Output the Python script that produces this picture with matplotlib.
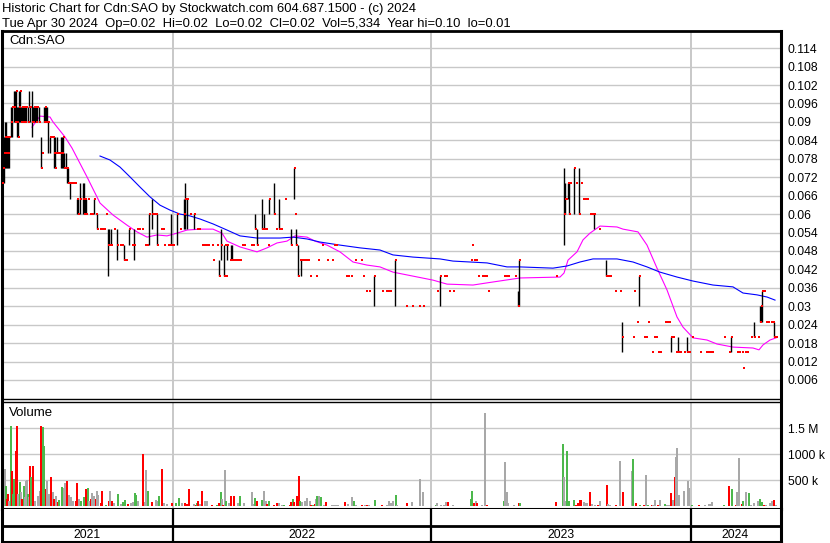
import matplotlib
matplotlib.use("Agg")
import matplotlib.pyplot as plt
import numpy as np

plt.rcParams['font.family'] = ['Liberation Sans', 'DejaVu Sans']

# --- datos (dia = sesion desde el inicio) ---
bar_day = [2, 3, 4, 5, 6, 7, 8, 9, 11, 12, 14, 15, 16, 17, 18, 19, 20, 21, 22, 23, 24, 25, 26, 28, 29, 30,
           32, 33, 34, 35, 36, 37, 39, 41, 42, 44, 45, 46, 47, 48, 50, 51, 53, 54, 55, 56, 57, 59, 61, 62,
           63, 64, 66, 67, 68, 70, 72, 73, 75, 77, 78, 80, 83, 84, 85, 86, 88, 90, 92, 94, 96, 97, 100,
           102, 104, 106, 108, 109, 111, 114, 117, 120, 122, 124, 126, 129, 132, 134, 137, 139, 142, 145,
           147, 149, 152, 154, 156, 157, 161, 163, 164, 168, 170, 171, 173, 177, 180, 184, 185, 187, 190,
           194, 197, 199, 202, 204, 206, 208, 212, 213, 217, 219, 221, 224, 225, 226, 227, 230, 231, 232,
           234, 236, 238, 240, 242, 244, 251, 253, 255, 257, 262, 264, 266, 268, 269, 274, 276, 279, 281,
           285, 291, 294, 295, 296, 298, 300, 301, 302, 304, 306, 308, 310, 316, 318, 322, 327, 332, 334,
           336, 346, 348, 351, 355, 361, 363, 366, 369, 374, 382, 386, 388, 390, 395, 406, 412, 419, 423,
           437, 440, 444, 446, 449, 453, 471, 472, 474, 476, 478, 482, 484, 486, 488, 504, 506, 508, 515,
           518, 519, 556, 564, 565, 566, 568, 569, 570, 574, 576, 579, 581, 583, 585, 587, 590, 592, 594,
           599, 606, 608, 610, 615, 620, 622, 633, 634, 637, 639, 644, 646, 648, 652, 654, 656, 658, 660,
           665, 667, 669, 671, 673, 676, 678, 680, 684, 687, 689, 692, 700, 706, 708, 710, 712, 724, 729,
           731, 737, 739, 742, 743, 745, 747, 751, 754, 758, 760, 761, 762, 764, 766, 768, 771, 773, 774, 776]
bar_hi = [.075, .085, .085, .09, .09, .085, .085, .085, .095, .095, .10, .10, .10, .095, .095, .10, .10, .095, .095, .095, .095, .095, .095, .095, .10, .095,
          .10, .095, .095, .095, .095, .095, .095, .085, .08, .095, .095, .095, .095, .09, .085, .085, .085, .085, .085, .08, .085, .08, .085, .085,
          .085, .08, .08, .075, .075, .07, .07, .07, .07, .065, .065, .07, .07, .07, .065, .065, .065, .06, .06, .065, .06, .06, .055,
          .055, .055, .06, .055, .055, .055, .055, .055, .05, .05, .05, .045, .055, .05, .055, .055, .055, .055, .05,
          .05, .06, .065, .06, .06, .06, .055, .055, .05, .05, .05, .06, .05, .06, .055, .065, .07, .065, .06,
          .06, .055, .055, .05, .05, .05, .05, .05, .045, .05, .045, .055, .05, .05, .04, .05, .05, .05, .05,
          .045, .045, .045, .045, .05, .05, .05, .05, .06, .055, .065, .06, .055, .05, .065, .07, .055, .065, .055,
          .065, .055, .075, .06, .055, .05, .045, .045, .045, .045, .045, .045, .04, .04, .045, .05, .045, .045, .05,
          .05, .04, .04, .04, .045, .045, .04, .035, .035, .04, .035, .035, .035, .035, .045, .03, .03, .03, .03,
          .035, .04, .04, .04, .035, .035, .045, .05, .045, .045, .04, .04, .04, .04, .035, .04, .04, .04, .04,
          .035, .045, .04, .075, .07, .065, .07, .07, .07, .075, .07, .075, .07, .065, .065, .065, .06, .06, .06,
          .055, .045, .04, .04, .035, .035, .025, .02, .035, .025, .04, .02, .02, .025, .015, .02, .02, .015, .015,
          .025, .025, .025, .02, .02, .015, .02, .015, .015, .02, .015, .02, .015, .015, .015, .015, .015, .02, .015,
          .02, .015, .015, .015, .01, .015, .015, .02, .025, .02, .03, .03, .035, .035, .025, .025, .025, .025, .025, .02]
bar_lo = [.065, .07, .07, .075, .075, .075, .075, .075, .085, .085, .09, .09, .09, .085, .085, .09, .09, .09, .09, .09, .09, .09, .09, .09, .095, .09,
          .085, .09, .09, .09, .09, .09, .09, .075, .08, .09, .09, .09, .09, .08, .08, .085, .085, .075, .075, .08, .08, .08, .075, .075,
          .075, .075, .075, .07, .07, .065, .07, .07, .07, .06, .06, .06, .06, .06, .06, .06, .065, .06, .06, .06, .06, .055, .055,
          .055, .055, .06, .04, .05, .05, .055, .045, .05, .05, .045, .045, .05, .05, .045, .055, .055, .055, .05,
          .05, .05, .055, .06, .06, .05, .055, .055, .05, .05, .05, .05, .05, .05, .055, .055, .055, .055, .06,
          .055, .055, .055, .05, .05, .05, .05, .05, .045, .05, .04, .045, .04, .05, .04, .045, .05, .045, .045,
          .045, .045, .045, .045, .05, .05, .05, .05, .055, .05, .055, .055, .055, .05, .06, .06, .055, .055, .055,
          .065, .05, .065, .06, .05, .04, .045, .04, .045, .045, .045, .045, .04, .04, .045, .05, .045, .045, .05,
          .05, .04, .04, .04, .045, .045, .04, .035, .035, .03, .035, .035, .035, .035, .03, .03, .03, .03, .03,
          .035, .03, .04, .04, .035, .035, .045, .05, .045, .045, .04, .04, .04, .04, .035, .04, .04, .04, .04,
          .03, .03, .04, .05, .06, .065, .065, .06, .07, .06, .07, .06, .07, .065, .065, .065, .06, .06, .055,
          .055, .04, .04, .04, .035, .035, .015, .02, .035, .025, .03, .02, .02, .025, .015, .02, .02, .015, .015,
          .025, .025, .025, .015, .02, .015, .015, .015, .015, .015, .015, .02, .015, .015, .015, .015, .015, .02, .015,
          .015, .015, .015, .015, .01, .015, .015, .02, .02, .02, .025, .025, .025, .035, .025, .025, .025, .025, .02, .02]
bar_cl = [.07, .075, .08, .085, .08, .085, .08, .085, .09, .095, .095, .09, .10, .09, .085, .095, .10, .09, .095, .09, .095, .09, .095, .09, .095, .095,
          .09, .09, .095, .095, .09, .095, .09, .075, .08, .09, .095, .09, .09, .09, .085, .085, .085, .08, .075, .08, .08, .08, .08, .08,
          .085, .075, .075, .075, .07, .07, .07, .07, .07, .065, .06, .065, .065, .06, .065, .06, .065, .06, .06, .065, .06, .055, .055,
          .055, .055, .06, .05, .05, .05, .055, .05, .05, .05, .045, .045, .055, .05, .05, .055, .055, .055, .05,
          .05, .06, .06, .06, .06, .05, .055, .055, .05, .05, .05, .05, .05, .06, .055, .06, .065, .065, .06,
          .06, .055, .055, .05, .05, .05, .05, .05, .045, .05, .04, .05, .04, .05, .04, .05, .045, .045, .045,
          .045, .045, .045, .045, .05, .05, .05, .05, .055, .05, .055, .055, .055, .05, .065, .06, .055, .055, .055,
          .065, .05, .075, .06, .05, .04, .045, .045, .045, .045, .045, .045, .04, .04, .045, .05, .045, .045, .05,
          .05, .04, .04, .04, .045, .045, .04, .035, .035, .04, .035, .035, .035, .035, .045, .03, .03, .03, .03,
          .035, .04, .04, .04, .035, .035, .045, .05, .045, .045, .04, .04, .04, .04, .035, .04, .04, .04, .04,
          .03, .045, .04, .06, .065, .065, .07, .06, .07, .075, .07, .06, .07, .065, .065, .065, .06, .06, .06,
          .055, .04, .04, .04, .035, .035, .02, .02, .035, .025, .04, .02, .02, .025, .015, .02, .02, .015, .015,
          .025, .025, .025, .02, .02, .015, .015, .015, .015, .015, .015, .02, .015, .015, .015, .015, .015, .02, .015,
          .02, .015, .015, .015, .01, .015, .015, .02, .02, .02, .025, .03, .035, .035, .025, .025, .025, .025, .02, .02]

# medias moviles
ma_short_day = [32, 40, 50, 53, 65, 72, 87, 100, 113, 127, 137, 147, 157, 167, 177, 187, 200, 213, 222, 227,
                240, 257, 267, 277, 287, 295, 307, 315, 327, 340, 353, 367, 380, 393, 413, 433, 447, 473, 487,
                520, 560, 564, 568, 577, 583, 590, 600, 617, 623, 638, 647, 657, 667, 677, 683, 693, 707, 717,
                733, 753, 759, 763, 770, 776]
ma_short = [.0883, .0919, .0916, .0900, .0851, .0815, .0721, .0636, .0597, .0564, .0542, .0525, .0532, .0529,
            .0538, .0548, .0551, .0551, .0538, .0512, .0493, .0477, .0490, .0506, .0512, .0529, .0525, .0512,
            .0499, .0477, .0444, .0434, .0428, .0411, .0398, .0385, .0372, .0369, .0376, .0392, .0395, .0408,
            .0450, .0477, .0516, .0538, .0561, .0558, .0551, .0542, .0499, .0424, .0353, .0265, .0232, .0197,
            .0190, .0177, .0167, .0164, .0158, .0174, .0190, .0197]
ma_long_day = [100, 110, 120, 130, 140, 150, 160, 170, 180, 190, 200, 213, 227, 240, 257, 280, 293, 307, 320,
               340, 360, 380, 393, 413, 440, 453, 487, 507, 520, 553, 567, 580, 593, 617, 633, 647, 660, 677,
               693, 713, 733, 743, 757, 767, 775]
ma_long = [.0789, .0776, .0753, .0721, .0688, .0656, .0629, .0613, .0600, .0594, .0584, .0568, .0548, .0529,
           .0522, .0522, .0525, .0519, .0509, .0499, .0490, .0483, .0467, .0460, .0454, .0447, .0441, .0428,
           .0428, .0424, .0431, .0444, .0454, .0454, .0444, .0428, .0411, .0395, .0382, .0369, .0363, .0343,
           .0337, .0330, .0320]

# volumen (miles de acciones); u = sube, d = baja, n = sin cambio
vol_day = [2, 4, 5, 6, 7, 8, 10, 11, 12, 13,
           15, 16, 17, 19, 20, 21, 23, 24, 25, 26,
           27, 28, 29, 30, 32, 34, 37, 39, 40, 42,
           43, 45, 46, 48, 50, 52, 53, 55, 57, 58,
           61, 63, 64, 66, 68, 70, 72, 75, 76, 78,
           80, 83, 85, 87, 88, 90, 91, 93, 95, 96,
           97, 100, 101, 105, 108, 109, 111, 113, 117, 120,
           122, 124, 127, 130, 132, 134, 135, 137, 142, 144,
           145, 147, 151, 155, 157, 158, 161, 163, 166, 171,
           175, 178, 181, 184, 186, 188, 193, 195, 196, 197,
           199, 201, 204, 206, 211, 216, 218, 220, 221, 222,
           224, 225, 228, 230, 233, 237, 239, 243, 251, 252,
           254, 256, 261, 263, 265, 266, 268, 273, 276, 278,
           281, 283, 289, 290, 292, 293, 296, 298, 299, 301,
           304, 306, 309, 310, 312, 314, 315, 316, 318, 320,
           323, 325, 331, 333, 335, 337, 344, 347, 351, 353,
           355, 361, 364, 366, 368, 374, 381, 386, 388, 390,
           392, 395, 396, 406, 411, 419, 422, 435, 436, 440,
           443, 445, 447, 452, 470, 471, 473, 475, 476, 481,
           484, 486, 503, 504, 506, 507, 513, 518, 519, 555,
           562, 563, 564, 566, 568, 573, 575, 577, 579, 580,
           583, 585, 586, 589, 591, 594, 597, 599, 606, 607,
           609, 615, 619, 622, 631, 632, 635, 639, 643, 645,
           647, 651, 652, 654, 657, 659, 664, 666, 668, 670,
           672, 674, 675, 676, 678, 683, 687, 688, 691, 698,
           704, 708, 709, 711, 723, 728, 731, 735, 736, 738,
           741, 742, 745, 748, 750, 753, 757, 759, 761, 763,
           765, 769, 771, 773, 775]
vol_k = [634, 717, 397, 141, 237, 109, 1538, 673, 237, 526,
         1070, 1538, 237, 462, 269, 141, 397, 173, 494, 506,
         237, 173, 782, 558, 782, 109, 205, 301, 1551, 1532,
         1167, 333, 494, 237, 558, 269, 141, 205, 77, 122,
         365, 353, 442, 494, 224, 173, 109, 96, 442, 141,
         109, 173, 333, 353, 109, 141, 250, 205, 141, 301,
         224, 58, 301, 32, 96, 301, 109, 58, 237, 45,
         77, 122, 45, 58, 77, 250, 224, 96, 1006, 77,
         699, 301, 77, 122, 109, 205, 718, 58, 45, 58,
         58, 154, 58, 58, 45, 327, 45, 32, 58, 96,
         45, 301, 109, 96, 20, 20, 58, 269, 141, 32,
         699, 109, 58, 198, 198, 58, 205, 58, 269, 45,
         154, 96, 122, 288, 96, 45, 109, 32, 58, 58,
         32, 26, 32, 77, 141, 77, 205, 590, 109, 90,
         96, 154, 96, 26, 26, 45, 141, 192, 205, 173,
         26, 77, 20, 20, 20, 20, 77, 45, 173, 109,
         32, 26, 26, 26, 26, 115, 26, 26, 96, 58,
         109, 224, 26, 58, 77, 519, 269, 26, 58, 32,
         32, 77, 77, 32, 141, 288, 58, 109, 58, 32,
         1788, 20, 109, 846, 269, 58, 26, 58, 70, 77,
         1199, 558, 96, 1058, 109, 115, 26, 70, 115, 115,
         77, 58, 58, 269, 45, 26, 26, 96, 404, 45,
         26, 26, 865, 269, 673, 904, 58, 26, 26, 596,
         26, 26, 26, 115, 26, 115, 45, 26, 26, 250,
         122, 558, 942, 1115, 218, 288, 481, 346, 26, 20,
         26, 45, 45, 77, 26, 384, 327, 26, 269, 923,
         45, 96, 269, 250, 26, 58, 109, 134, 77, 26,
         26, 58, 109, 115, 26]
vol_dir = ("d n u d d n u d u u "
           "d d n u n d u n n n "
           "u n d u d n n n d u "
           "u d n n d n d n d u "
           "u n n d n n n d d n "
           "u u d u n d n n d n "
           "n d d u d n d n u n "
           "u u d n n u u n d n "
           "n u d n n u d n n d "
           "u u n d d d n d u d "
           "n d n n d u d u n d "
           "n u n d d n u n n n "
           "u d u n n d u d d n "
           "n u d d u d d d u n "
           "n n n d u d n u n u "
           "n d n n n n d n n u "
           "n d n d n u d n n n "
           "n u n d n n n u n n "
           "n n d n u u d n d n "
           "n d u n n n n d u d "
           "u n n u u u d d d d "
           "n n n d n n d n d n "
           "n d n d n u d u d n "
           "u d n n d n u n n d "
           "n d n n n n n n u d "
           "n n n n u d u d n n "
           "d u n u n n n u u d "
           "n n n d n").split()

price_ticks = [0.006, 0.012, 0.018, 0.024, 0.03, 0.036, 0.042, 0.048, 0.054, 0.06, 0.066, 0.072,
               0.078, 0.084, 0.09, 0.096, 0.102, 0.108, 0.114]
price_labels = ['0.006', '0.012', '0.018', '0.024', '0.03', '0.036', '0.042', '0.048', '0.054', '0.06',
                '0.066', '0.072', '0.078', '0.084', '0.09', '0.096', '0.102', '0.108', '0.114']
vol_ticks = [500e3, 1000e3, 1500e3]
vol_labels = ['500 k', '1000 k', '1.5 M']
year_labels = ['2021', '2022', '2023', '2024']
year_start = [0, 173, 431, 691, 779]

title1 = "Historic Chart for Cdn:SAO by Stockwatch.com 604.687.1500 - (c) 2024"
title2 = "Tue Apr 30 2024  Op=0.02  Hi=0.02  Lo=0.02  Cl=0.02  Vol=5,334  Year hi=0.10  lo=0.01"

# ---------------------------------------------------------------
W, H = 830, 543
fig = plt.figure(figsize=(W / 100, H / 100), dpi=100)
fig.patch.set_facecolor('white')

def caja(x0, y0, x1, y1):
    return [x0 / W, 1 - y1 / H, (x1 - x0) / W, (y1 - y0) / H]

GRID = '#c8c8c8'
XL = (2, 781)
FS = 8.7

# panel de precio
ax = fig.add_axes(caja(2, 31, 781, 399))
ax.set_xlim(*XL)
ax.set_ylim(-0.0002, 0.1196)
for p in price_ticks:
    ax.axhline(p, color=GRID, lw=1.0, zorder=0)
for yd in year_start[1:-1]:
    ax.axvline(yd, color=GRID, lw=1.4, zorder=0)

d = np.array(bar_day, dtype=float)
hi = np.array(bar_hi)
lo = np.array(bar_lo)
cl = np.array(bar_cl)
rango = hi > lo
ax.vlines(d[rango], lo[rango], hi[rango], color='black', lw=1.0, zorder=3)
ax.plot(d + 0.8, cl, 's', color='#ff0000', ms=1.6, mew=0, zorder=4)
ax.plot(ma_short_day, ma_short, color='#ff00ff', lw=0.8, zorder=2)
ax.plot(ma_long_day, ma_long, color='#0000ff', lw=0.8, zorder=2)

ax.set_xticks([])
ax.yaxis.tick_right()
ax.set_yticks(price_ticks)
ax.set_yticklabels(price_labels, fontsize=FS)
ax.tick_params(axis='y', length=0, pad=5)
ax.spines['left'].set_linewidth(2.2)
ax.spines['right'].set_linewidth(2.2)
ax.spines['top'].set_linewidth(2.0)
ax.spines['bottom'].set_linewidth(1.0)
ax.text(7 / 779, 1 - 10 / 368, 'Cdn:SAO', transform=ax.transAxes, fontsize=9.5, va='center', ha='left')

# panel de volumen
axv = fig.add_axes(caja(2, 402, 781, 509))
axv.set_xlim(*XL)
axv.set_ylim(-52e3, 2.006e6)
for v in vol_ticks:
    axv.axhline(v, color=GRID, lw=1.0, zorder=0)
for yd in year_start[1:-1]:
    axv.axvline(yd, color=GRID, lw=1.4, zorder=0)
colores = {'u': '#4cb84c', 'd': '#ff0000', 'n': '#a8a8a8'}
axv.bar(vol_day, np.array(vol_k) * 1000, width=1.8, color=[colores[c] for c in vol_dir],
        linewidth=0, align='edge', zorder=2)
axv.set_xticks([])
axv.yaxis.tick_right()
axv.set_yticks(vol_ticks)
axv.set_yticklabels(vol_labels, fontsize=FS)
axv.tick_params(axis='y', length=0, pad=5)
axv.spines['left'].set_linewidth(2.2)
axv.spines['right'].set_linewidth(2.2)
axv.spines['top'].set_linewidth(1.0)
axv.spines['bottom'].set_linewidth(2.2)
axv.text(7 / 779, 1 - 11 / 107, 'Volume', transform=axv.transAxes, fontsize=9.5, va='center', ha='left')

# eje de fechas
axd = fig.add_axes(caja(2, 509, 781, 542))
axd.set_xlim(*XL)
axd.set_ylim(0, 1)
axd.axhline(0.47, color='black', lw=2.0)
for yd in year_start[1:-1]:
    axd.axvline(yd, color='black', lw=1.6)
for i, lab in enumerate(year_labels):
    axd.text((year_start[i] + year_start[i + 1]) / 2, 0.22, lab, ha='center', va='center', fontsize=FS)
axd.set_xticks([])
axd.set_yticks([])
for s in ['left', 'right', 'bottom']:
    axd.spines[s].set_linewidth(2.2)
axd.spines['top'].set_visible(False)

fig.text(2 / W, 1 - 12 / H, title1, fontsize=9.4, va='baseline', ha='left')
fig.text(2 / W, 1 - 27 / H, title2, fontsize=9.4, va='baseline', ha='left')

fig.savefig('out.png', dpi=100, facecolor='white')
